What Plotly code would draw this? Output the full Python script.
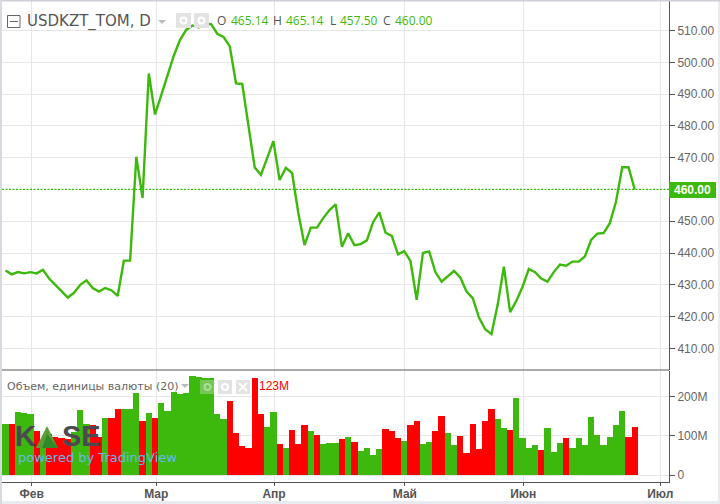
import plotly.graph_objects as go

closes = [434.5,433.3,434,433.6,434,433.6,434.7,432,430,427.9,426,427.5,430,431.4,429,427.9,429,428.3,426.5,437.6,437.6,
470.3,457.3,496.5,483.6,489.7,496,502,507,510.2,511.6,511,512.2,512,509,508,505,493.4,493.2,480.3,466.9,464.6,469.9,475.2,463,466.8,465.2,
452.6,442.5,448,448,451,453.5,455.3,442,446.2,442.5,442.8,444,449.7,452.8,446.4,445.4,439.6,440.6,437.5,425.3,440,440.5,434,431,432.6,434.4,432.3,427.9,425.8,419.7,416,
414.5,423.7,435.7,421.4,425,429.4,435,434,432,431,434,436.4,436,437.3,437.3,438.9,444.1,446.1,446.3,449.4,456.2,467,467,460]
volumes_m = [130,130,160,158,155,113,75,104,97,95,92,110,165,129,127,97,144,144,169,168,168,208,137,158,145,182,164,211,206,208,252,250,248,246,155,142,188,106,
74,69,248,156,122,160,79,69,114,79,126,111,101,79,81,81,92,97,85,61,69,50,66,117,112,95,86,127,137,79,84,112,150,106,76,98,56,130,66,
137,167,142,119,114,195,95,69,76,64,119,58,81,95,69,95,76,147,103,76,97,127,164,97,123]
red_bars = [1,5,7,8,9,10,14,15,17,18,22,24,36,37,38,39,40,41,44,46,47,48,50,54,56,61,62,63,65,66,69,70,73,74,75,76,77,78,81,86,90,100,101]
month_labels = ["Фев", "Мар", "Апр", "Май", "Июн", "Июл"]
month_pos = [4.2, 24.2, 43.1, 64.1, 83.1, 105.1]
price_ticks = [410, 420, 430, 440, 450, 470, 480, 490, 500, 510]
vol_ticks = [0, 100, 200]
vol_tick_labels = ["0", "100M", "200M"]
ohlc_names = ["O", "H", "L", "C"]
ohlc_values = ["465.14", "465.14", "457.50", "460.00"]
idx = list(range(len(closes)))

GREEN = "#3cb90c"
RED = "#ff0000"
W, H = 720, 504
def px(x): return x / 716
def py(y): return 1 - y / H

fig = go.Figure()
fig.add_trace(go.Scatter(x=idx, y=closes, mode="lines", line=dict(color=GREEN, width=2.4),
                         xaxis="x", yaxis="y", hoverinfo="skip"))
fig.add_trace(go.Bar(x=idx, y=volumes_m, width=1.0, xaxis="x2", yaxis="y2", hoverinfo="skip",
                     marker=dict(color=[RED if i in red_bars else GREEN for i in idx], line=dict(width=0))))

xr = [-0.562, 106.5]
xdom = [px(2), px(669)]
common = dict(range=xr, domain=xdom, gridcolor="#e6e6e6", gridwidth=1, zeroline=False,
              tickmode="array", tickvals=month_pos, ticktext=month_labels)
fig.update_layout(
    width=W, height=H, margin=dict(l=0, r=0, t=0, b=0), paper_bgcolor="white", plot_bgcolor="white",
    showlegend=False, bargap=0,
    xaxis=dict(**common, anchor="y", showticklabels=False, ticks=""),
    xaxis2=dict(**common, anchor="y2", ticks="outside", ticklen=3, tickcolor="#555",
                tickfont=dict(family="Liberation Sans", size=12, color="#555", weight="bold"),
                ticklabelstandoff=-2,
                showline=True, linecolor="#555", linewidth=1),
    yaxis=dict(domain=[py(370), py(1)], range=[403.2, 519.3], side="right", anchor="x",
               tickmode="array", tickvals=price_ticks, ticktext=[f"{v:.2f}" for v in price_ticks],
               gridcolor="#e6e6e6", zeroline=False, ticks="outside", ticklen=5, tickcolor="#555",
               tickfont=dict(family="Liberation Sans", size=12, color="#666"),
               showline=True, linecolor="#555", linewidth=1),
    yaxis2=dict(domain=[py(482), py(371)], range=[-17.8, 264.6], side="right", anchor="x2",
                tickmode="array", tickvals=vol_ticks, ticktext=vol_tick_labels,
                gridcolor="#e6e6e6", zeroline=False, ticks="outside", ticklen=5, tickcolor="#555",
                tickfont=dict(family="Liberation Sans", size=12, color="#666"),
                showline=True, linecolor="#555", linewidth=1),
)

def rect(x0, y0, x1, y1, **kw):
    fig.add_shape(type="rect", xref="paper", yref="paper", x0=px(x0), x1=px(x1), y0=py(y0), y1=py(y1),
                  layer="above", **kw)
def seg(x0, y0, x1, y1, color="white", width=2):
    fig.add_shape(type="line", xref="paper", yref="paper", x0=px(x0), x1=px(x1), y0=py(y0), y1=py(y1),
                  line=dict(color=color, width=width), layer="above")
def ring(cx, cy, r, color="white", width=2):
    fig.add_shape(type="circle", xref="paper", yref="paper", x0=px(cx - r), x1=px(cx + r),
                  y0=py(cy + r), y1=py(cy - r), line=dict(color=color, width=width), layer="above")
def text(x, y, s, size=12, color="#555", family="Liberation Sans", anchor="left", **kw):
    # annotations carry 2px of padding on each side
    xs = -2 if anchor == "left" else 0
    fig.add_annotation(xref="paper", yref="paper", x=px(x), y=py(y), text=s, showarrow=False,
                       xanchor=anchor, yanchor="middle", font=dict(size=size, color=color, family=family),
                       xshift=xs, **kw)
def tri(x, y, color="#bbb"):
    fig.add_shape(type="path", xref="paper", yref="paper",
                  path=f"M {px(x-4)} {py(y-2)} L {px(x+4)} {py(y-2)} L {px(x)} {py(y+2)} Z",
                  fillcolor=color, line_width=0, layer="above")

# frame
rect(0, 501, 720, 504, fillcolor="#e8ebf0", line_width=0)
rect(718, 0, 720, 504, fillcolor="#e8ebf0", line_width=0)
rect(0, 0, 720, 1.5, fillcolor="#cfcfd8", line_width=0)
rect(0, 0, 2, 504, fillcolor="#d8d8e0", line_width=0)
seg(2, 370, 669, 370, color="#555", width=1)
# last price line
fig.add_shape(type="line", xref="paper", yref="y", x0=px(2), x1=px(669), y0=closes[-1], y1=closes[-1],
              line=dict(color="#2fc000", width=1.3, dash="2px,1.5px"), layer="above")
rect(669, 182, 716, 198, fillcolor=GREEN, line_width=0)
text(692.5, 190, f"<b>{closes[-1]:.2f}</b>", size=12, color="white", anchor="center")

# header
rect(7.5, 15.5, 20, 27.5, fillcolor="rgba(0,0,0,0)", line=dict(color="#666", width=1))
seg(10, 21.5, 18, 21.5, color="#666", width=1)
text(27, 22, "USDKZT_TOM, D", size=15, color="#555", family="DejaVu Sans")
tri(162, 22)
rect(176, 13, 191, 28, fillcolor="#e3e3e3", line_width=0)
rect(194, 13, 209, 28, fillcolor="#e3e3e3", line_width=0)
ring(183.5, 20.5, 3)
ring(201.5, 20.5, 3)
for name, value, nx, vx in zip(ohlc_names, ohlc_values, [217, 273, 330, 383], [231, 286, 340, 395]):
    text(nx, 21, name, size=12, color="#555", family="Open Sans")
    text(vx, 21, value, size=12, color=GREEN, family="Open Sans")

# volume legend
text(7, 386, "Объем, единицы валюты (20)", size=11, color="#666", family="DejaVu Sans")
tri(185, 386)
rect(200, 380, 215, 394, fillcolor="rgba(227,227,227,0.35)", line_width=0)
rect(218, 380, 232, 394, fillcolor="#e3e3e3", line_width=0)
rect(236, 380, 250, 394, fillcolor="#e3e3e3", line_width=0)
ring(207.5, 387, 3, color="rgba(255,255,255,0.4)")
ring(225, 387, 3)
seg(239, 383, 247, 391)
seg(239, 391, 247, 383)
text(259, 386, f"{volumes_m[-1]}M", size=12, color=RED)

# logo
text(15, 436, "<b>K</b>", size=29, color="#4a4a50")
fig.add_shape(type="path", xref="paper", yref="paper",
              path=f"M {px(36)} {py(448)} L {px(47)} {py(426)} L {px(58)} {py(448)} Z",
              fillcolor="#5a9e35", line_width=0, layer="above")
fig.add_shape(type="path", xref="paper", yref="paper",
              path=f"M {px(42)} {py(448)} L {px(47)} {py(434)} L {px(58)} {py(448)} Z",
              fillcolor="#2f8a2a", line_width=0, layer="above")
text(62, 436, "<b>SE</b>", size=29, color="#4a4a50")
text(18, 457, "powered by TradingView", size=13, color="#66b8ee", family="DejaVu Sans")

fig.write_html("out.html", config=dict(displayModeBar=False), post_script="document.body.style.margin='0';")
